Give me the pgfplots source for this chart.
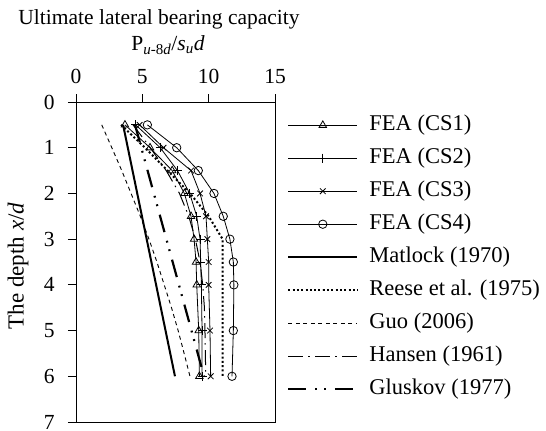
\documentclass[border=0pt]{standalone}
\usepackage{fontspec}
\setmainfont{Liberation Serif}
\usepackage{pgfplots}
\pgfplotsset{compat=1.18}

\begin{document}
\fontsize{21.5bp}{25bp}\selectfont
\begin{tikzpicture}[x=1bp,y=1bp]
\begin{axis}[
  at={(0,0)}, anchor=south west,
  width=199bp, height=320bp, scale only axis,
  xmin=0, xmax=15, ymin=0, ymax=7,
  y dir=reverse,
  xtick={0,5,10,15}, ytick={0,1,...,7},
  xtick pos=upper, xticklabel pos=upper,
  ytick pos=left,
  tick align=outside,
  major tick length=8bp,
  tick style={black, line width=0.8bp},
  axis line style={line width=0.9bp},
  /pgf/number format/assume math mode=true,
  yticklabel style={xshift=-6bp},
  xticklabel style={yshift=3bp},
  legend style={at={(1,1)}, anchor=north west, xshift=12bp, yshift=-13bp,
    draw=none, fill=none, inner sep=0bp, row sep=13bp,
    font=\fontsize{22.5bp}{26bp}\selectfont,
    nodes={inner sep=0bp, text height=15bp, text depth=5bp},
    /tikz/every odd column/.append style={column sep=11bp}},
  legend cell align=left,
  legend image code/.code={%
    \draw[mark repeat=2, mark phase=2, #1]
      plot coordinates {(0bp,0bp) (34.5bp,0bp) (69bp,0bp)};},
]
\addplot[black, line width=0.8bp, mark=triangle, mark size=4.3bp, mark options={solid, fill=white}]
  coordinates {(3.69,0.5)(5.58,1)(7.25,1.5)(8.17,2)(8.67,2.5)(8.9,3)(9.05,3.5)(9.1,4)(9.25,5)(9.3,6)};
\addlegendentry{FEA (CS1)}
\addplot[black, line width=0.8bp, mark=+, mark size=4.5bp, mark options={solid}]
  coordinates {(4.5,0.5)(6.35,1)(7.65,1.5)(8.57,2)(9.1,2.5)(9.35,3)(9.4,3.5)(9.45,4)(9.5,5)(9.5,6)};
\addlegendentry{FEA (CS2)}
\addplot[black, line width=0.8bp, mark=x, mark size=4bp, mark options={solid}]
  coordinates {(4.8,0.5)(6.6,1)(8.67,1.5)(9.35,2)(9.8,2.5)(9.9,3)(10.0,3.5)(10.0,4)(10.1,5)(10.15,6)};
\addlegendentry{FEA (CS3)}
\addplot[black, line width=0.8bp, mark=o, mark size=4.2bp, mark options={solid, fill=white}]
  coordinates {(5.38,0.5)(7.59,1)(9.22,1.5)(10.4,2)(11.1,2.5)(11.6,3)(11.86,3.5)(11.9,4)(11.86,5)(11.76,6)};
\addlegendentry{FEA (CS4)}
\addplot[black, line width=2bp]
  coordinates {(3.55,0.5)(7.46,6)};
\addlegendentry{Matlock (1970)}
\addplot[black, line width=2bp, dash pattern=on 2bp off 2.3bp]
  coordinates {(3.4,0.5)(5.2,1)(6.9,1.5)(8.6,2)(10.0,2.5)(11.05,3)(11.05,6)};
\addlegendentry{Reese et al. (1975)}
\addplot[black, line width=0.9bp, dash pattern=on 4bp off 3.5bp]
  coordinates {(1.94,0.5)(2.7,1)(3.45,1.5)(4.15,2)(4.85,2.5)(5.5,3)(6.1,3.5)(6.65,4)(7.2,4.5)(7.7,5)(8.15,5.5)(8.59,6)};
\addlegendentry{Guo (2006)}
\addplot[black, line width=1bp, dash pattern=on 15bp off 5bp on 1.5bp off 5.5bp]
  coordinates {(4.3,0.5)(5.6,1)(6.8,1.5)(7.8,2)(8.5,2.5)(9.0,3)(9.35,3.5)(9.55,4)(9.68,4.5)(9.72,5)(9.75,5.5)(9.78,6)};
\addlegendentry{Hansen (1961)}
\addplot[black, line width=2.2bp, dash pattern=on 18bp off 9bp on 1.8bp off 7bp on 1.8bp off 9bp]
  coordinates {(4.45,0.5)(9.65,6)};
\addlegendentry{Gluskov (1977)}
\end{axis}
\node at (83,403) {Ultimate lateral bearing capacity};
\node at (92,377) {P\textsubscript{\textit{u}-8\textit{d}}/\textit{s}\textsubscript{\textit{u}}\textit{d}};
\node[rotate=90, font=\fontsize{23bp}{26bp}\selectfont] at (-58,156) {The depth \textit{x}/\textit{d}};
\pgfresetboundingbox
\path[use as bounding box] (-76,-8) rectangle (470,422);
\end{tikzpicture}
\end{document}
